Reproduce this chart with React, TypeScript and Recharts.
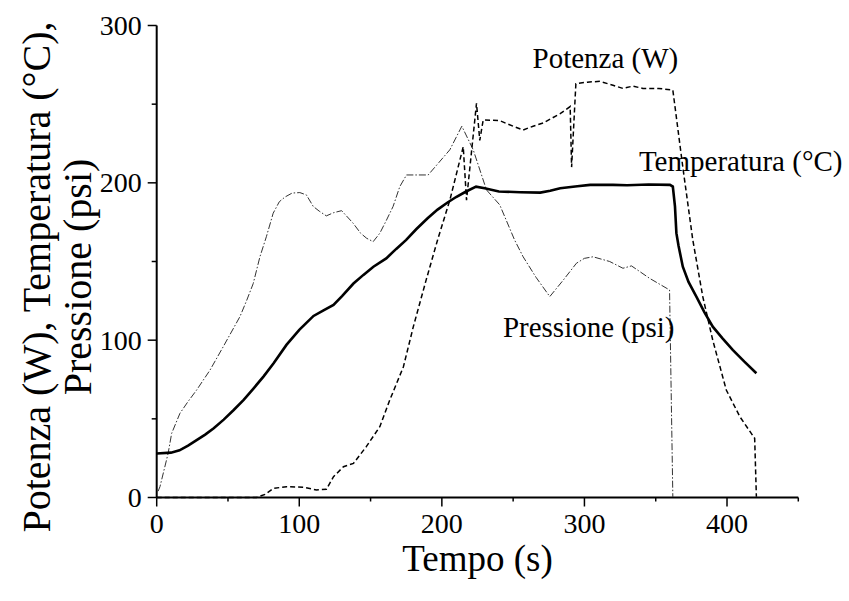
import React from "react";
import { LineChart, Line, XAxis, YAxis, ReferenceDot, Label } from "recharts";

// [tempo (s), valore]
const temperatura: [number, number][] = [
  [0, 28], [10, 28.5], [16, 30], [22, 33], [28, 36.5], [34, 40], [40, 44], [47, 49.5],
  [54, 55.6], [61, 62], [68, 69.4], [75, 77], [82, 85.3], [91, 97], [100, 106.5],
  [105, 111], [110, 115.4], [117, 119], [124, 122.4], [130, 128], [138, 136],
  [145, 141.5], [152, 146.7], [161, 152], [168, 158], [175, 163.7], [182, 170.5],
  [190, 177.5], [197, 183], [204, 187.5], [210, 191], [217, 194.5], [224, 197.6],
  [230, 196.5], [240, 194.5], [255, 194], [269, 193.8], [276, 195], [283, 196.6],
  [295, 197.8], [304, 198.7], [320, 198.7], [330, 198.5], [345, 198.9], [360, 198.7],
  [362, 197.6], [363.5, 185], [364.5, 168], [366, 160], [369, 146.7], [373, 137],
  [378.5, 127.7], [384, 118], [390, 108.6], [397, 101], [404, 93.8], [412, 86.5],
  [420.6, 79],
];

const potenza: [number, number][] = [
  [0, 0], [70, 0], [76, 2], [82, 5.8], [91, 6.9], [103, 6.5], [112, 4.8], [119, 5.2],
  [124, 13.2], [131, 19.6], [138, 21.7], [147, 32.3], [156.5, 45], [163.5, 62],
  [173, 83], [180, 108.6], [189, 138.3], [197, 163.7], [205.6, 189], [215, 223],
  [217.3, 189], [224.3, 250.5], [226.6, 227], [229, 240], [240.6, 239.5], [250, 236],
  [257, 233.6], [264, 236], [271, 238], [283, 244], [290, 248.5], [291, 210],
  [294, 263], [302, 264], [311, 264.5], [320, 262], [327, 260], [334, 261.5],
  [341, 260], [352, 260], [362, 259], [369, 210], [376, 163.7], [383, 127.7],
  [390, 100], [399.5, 68.3], [409, 51.4], [419.4, 37.6], [420.6, 0.5],
];

const pressione: [number, number][] = [
  [1, 4], [2.3, 6.9], [8, 28], [10.5, 40.8], [16.3, 53.5], [22, 61], [28, 68.3],
  [37.4, 81], [46.7, 95.9], [58.4, 115], [63, 125], [67.7, 136], [72.4, 153],
  [77, 166], [81.7, 180.7], [86, 188], [90, 191], [95, 193.5], [100.4, 193.8],
  [105, 192.3], [109.8, 185], [114, 182], [119, 179], [124, 181], [129.7, 182.3],
  [137.8, 174.3], [143, 168], [147.2, 164.8], [151.8, 162.6], [156.5, 168],
  [161, 176], [165.8, 185], [170.5, 197.6], [175.2, 205], [190.4, 205], [198, 213],
  [205.6, 221], [214, 236], [222, 221], [231.3, 195.5], [240.6, 186], [251, 163.7],
  [257, 153], [266, 140], [275.7, 127.7], [285, 138], [294.4, 148.9], [300, 152],
  [306, 153], [317.7, 150], [327, 145.7], [333, 147.2], [339, 143.5],
  [345.7, 139.3], [359.7, 131.9], [362, 0.5],
];

const xTicks = [0, 50, 100, 150, 200, 250, 300, 350, 400, 450];
const yTicks = [0, 50, 100, 150, 200, 250, 300];

// etichette delle curve: [tempo, valore alla linea di base, testo]
const etichette: [number, number, string][] = [
  [314.7, 272.9, "Potenza (W)"],
  [409.6, 207.8, "Temperatura (°C)"],
  [303, 102.2, "Pressione (psi)"],
];

const FONT = '"Liberation Serif", "Times New Roman", serif';

const toPoints = (rows: [number, number][]) => rows.map(([t, v]) => ({ t, v }));

const XTick = (props: any) => {
  const { x, y, payload } = props;
  const major = payload.value % 100 === 0;
  return (
    <g>
      <line x1={x} x2={x} y1={y} y2={y + (major ? 9 : 4)} stroke="#000" strokeWidth={1.5} />
      {major && (
        <text x={x} y={y + 35} textAnchor="middle" fontSize={28} style={{ fontFamily: FONT }} fill="#000">
          {payload.value}
        </text>
      )}
    </g>
  );
};

const YTick = (props: any) => {
  const { x, y, payload } = props;
  const major = payload.value % 100 === 0;
  return (
    <g>
      <line x1={x} x2={x - (major ? 9 : 5)} y1={y} y2={y} stroke="#000" strokeWidth={1.5} />
      {major && (
        <text x={x - 15} y={y + 9.5} textAnchor="end" fontSize={28} style={{ fontFamily: FONT }} fill="#000">
          {payload.value}
        </text>
      )}
    </g>
  );
};

const XTitle = (props: any) => {
  const { viewBox } = props;
  const cx = viewBox.x + viewBox.width / 2;
  return (
    <text x={cx} y={viewBox.y + 73} textAnchor="middle" fontSize={37} style={{ fontFamily: FONT }} fill="#000">
      Tempo (s)
    </text>
  );
};

const YTitle = () => {
  const cy = 277;
  return (
    <g fontSize={40} style={{ fontFamily: FONT }} fill="#000" textAnchor="middle">
      <text x={50} y={cy} transform={`rotate(-90, 50, ${cy})`}>
        Potenza (W), Temperatura (°C),
      </text>
      <text x={91} y={cy} transform={`rotate(-90, 91, ${cy})`}>
        Pressione (psi)
      </text>
    </g>
  );
};

export default function App() {
  return (
    <div style={{ position: "absolute", left: 0, top: 0, background: "#fff" }}>
      <LineChart width={849} height={601} margin={{ top: 25.5, right: 50.7, bottom: 0, left: 0 }}>
        <XAxis
          dataKey="t"
          type="number"
          domain={[0, 450]}
          ticks={xTicks}
          interval={0}
          height={103.5}
          tickSize={0}
          tickMargin={0}
          tickLine={false}
          tick={<XTick />}
          axisLine={{ stroke: "#000", strokeWidth: 2 }}
        >
          <Label content={<XTitle />} />
        </XAxis>
        <YAxis
          type="number"
          domain={[0, 300]}
          ticks={yTicks}
          interval={0}
          width={156.7}
          tickSize={0}
          tickMargin={0}
          tickLine={false}
          tick={<YTick />}
          axisLine={{ stroke: "#000", strokeWidth: 2 }}
        >
          <Label content={<YTitle />} />
        </YAxis>

        <Line
          data={toPoints(pressione)}
          dataKey="v"
          type="linear"
          stroke="#333"
          strokeWidth={1}
          strokeDasharray="7 2 1.5 2"
          dot={false}
          activeDot={false}
          isAnimationActive={false}
        />
        <Line
          data={toPoints(potenza)}
          dataKey="v"
          type="linear"
          stroke="#000"
          strokeWidth={1.5}
          strokeDasharray="5 3"
          dot={false}
          activeDot={false}
          isAnimationActive={false}
        />
        <Line
          data={toPoints(temperatura)}
          dataKey="v"
          type="linear"
          stroke="#000"
          strokeWidth={2.6}
          dot={false}
          activeDot={false}
          isAnimationActive={false}
        />

        {etichette.map(([t, v, testo]) => (
          <ReferenceDot
            key={testo}
            x={t}
            y={v}
            r={0}
            fill="none"
            stroke="none"
            ifOverflow="visible"
            label={{
              content: (p: any) => (
                <text
                  x={p.viewBox.x + (p.viewBox.width || 0) / 2}
                  y={p.viewBox.y + (p.viewBox.height || 0) / 2}
                  textAnchor="middle"
                  fontSize={29}
                  style={{ fontFamily: FONT }}
                  fill="#000"
                >
                  {testo}
                </text>
              ),
            }}
          />
        ))}
      </LineChart>
    </div>
  );
}
